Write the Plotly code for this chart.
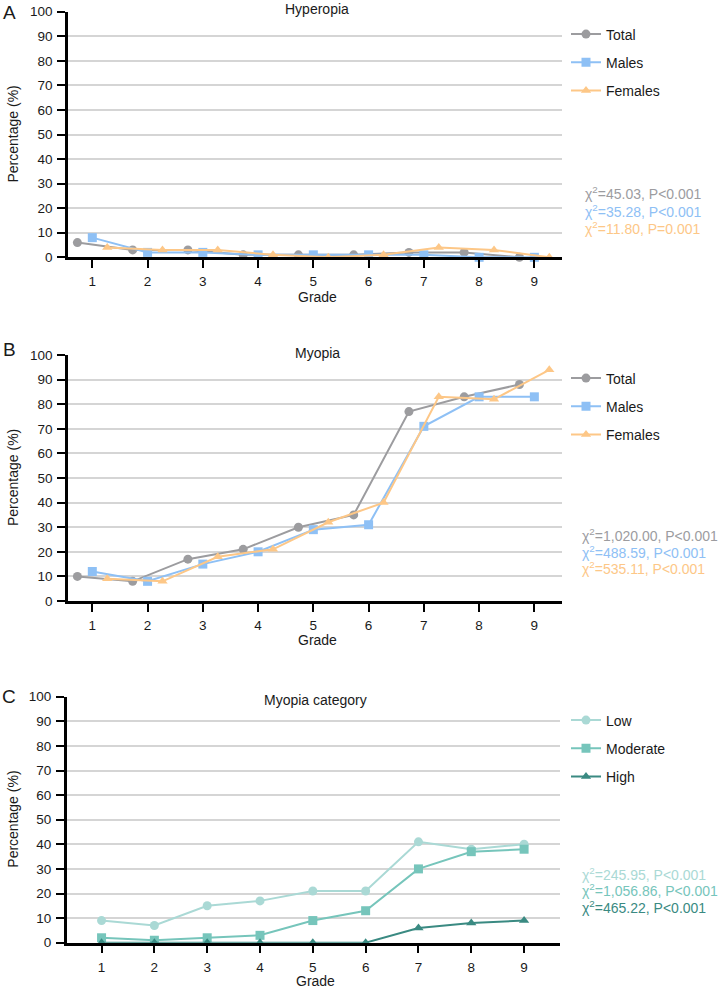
import plotly.graph_objects as go

# ---------------- data ----------------
grades = [1, 2, 3, 4, 5, 6, 7, 8, 9]
y_ticks = [0, 10, 20, 30, 40, 50, 60, 70, 80, 90, 100]
grid_vals = [10, 20, 30, 40, 50, 60, 70, 80, 90]

hyp_total = [6, 3, 3, 1, 1, 1, 2, 2, 0]
hyp_males = [8, 2, 2, 1, 1, 1, 1, 0, 0]
hyp_females = [4, 3, 3, 1, 0, 1, 4, 3, 0]

myo_total = [10, 8, 17, 21, 30, 35, 77, 83, 88]
myo_males = [12, 8, 15, 20, 29, 31, 71, 83, 83]
myo_females = [9, 8, 18, 21, 32, 40, 83, 82, 94]

cat_low = [9, 7, 15, 17, 21, 21, 41, 38, 40]
cat_moderate = [2, 1, 2, 3, 9, 13, 30, 37, 38]
cat_high = [0, 0, 0, 0, 0, 0, 6, 8, 9]

stats_A = ["=45.03, P&lt;0.001", "=35.28, P&lt;0.001", "=11.80, P=0.001"]
stats_B = ["=1,020.00, P&lt;0.001", "=488.59, P&lt;0.001", "=535.11, P&lt;0.001"]
stats_C = ["=245.95, P&lt;0.001", "=1,056.86, P&lt;0.001", "=465.22, P&lt;0.001"]

# ---------------- style ----------------
W, H = 720, 988
FONT = "Liberation Sans"
C_TOTAL = "#9c9c9f"
C_MALES = "#8ec0f5"
C_FEMALES = "#fdc787"
C_LOW = "#aad9d5"
C_MOD = "#76c5bb"
C_HIGH = "#3a8a82"
DODGE = 0.27


def px(x):
    return x / W


def py(y):
    return 1 - y / H


fig = go.Figure()


def add_series(xs, ys, name, color, symbol, xa, ya, legend, dodge=0.0):
    fig.add_trace(go.Scatter(
        x=[g + dodge for g in xs], y=ys, name=name, mode="lines+markers",
        line=dict(color=color, width=2),
        marker=dict(color=color, symbol=symbol, size=9, line=dict(width=0)),
        xaxis=xa, yaxis=ya, legend=legend, legendgroup=legend + name,
        cliponaxis=False, showlegend=True,
    ))


add_series(grades, hyp_total, "Total", C_TOTAL, "circle", "x", "y", "legend", -DODGE)
add_series(grades, hyp_males, "Males", C_MALES, "square", "x", "y", "legend", 0.0)
add_series(grades, hyp_females, "Females", C_FEMALES, "triangle-up", "x", "y", "legend", DODGE)

add_series(grades, myo_total, "Total", C_TOTAL, "circle", "x2", "y2", "legend2", -DODGE)
add_series(grades, myo_males, "Males", C_MALES, "square", "x2", "y2", "legend2", 0.0)
add_series(grades, myo_females, "Females", C_FEMALES, "triangle-up", "x2", "y2", "legend2", DODGE)

add_series(grades, cat_low, "Low", C_LOW, "circle", "x3", "y3", "legend3")
add_series(grades, cat_moderate, "Moderate", C_MOD, "square", "x3", "y3", "legend3")
add_series(grades, cat_high, "High", C_HIGH, "triangle-up", "x3", "y3", "legend3")

# panel geometry in pixels: (x_left, x_right, y_top(100), y_bottom(0), xrange)
panels = [
    (68, 562, 11.7, 257.3, [0.56, 9.5]),
    (68, 562, 355, 601, [0.56, 9.5]),
    (66.7, 560, 696.7, 942.7, [0.34, 9.68]),
]

layout = dict(
    width=W, height=H, autosize=False, margin=dict(l=0, r=0, t=0, b=0, pad=0, autoexpand=False),
    paper_bgcolor="white", plot_bgcolor="white",
    font=dict(family=FONT, size=14, color="#1a1a1a"),
    showlegend=True,
)

for i, (xl, xr, yt, yb, xr_range) in enumerate(panels):
    sfx = "" if i == 0 else str(i + 1)
    layout["xaxis" + sfx] = dict(
        domain=[px(xl), px(xr)], range=xr_range, anchor="y" + sfx,
        tickvals=grades, ticks="outside", ticklen=8, tickwidth=2, tickcolor="black",
        showline=True, linecolor="black", linewidth=2.5, showgrid=False, zeroline=False,
        tickfont=dict(family=FONT, size=13.5, color="#1a1a1a"), ticklabelstandoff=2,
        fixedrange=True, automargin=False,
    )
    layout["yaxis" + sfx] = dict(
        domain=[py(yb), py(yt)], range=[0, 100], anchor="x" + sfx,
        tickvals=y_ticks, ticks="outside", ticklen=8, tickwidth=2, tickcolor="black",
        showline=True, linecolor="black", linewidth=2.5, zeroline=False,
        showgrid=False,
        minor=dict(tickvals=grid_vals, showgrid=True, gridcolor="#d5d5d5", gridwidth=1.6, ticks=""),
        tickfont=dict(family=FONT, size=13.5, color="#1a1a1a"), ticklabelstandoff=2,
        fixedrange=True, automargin=False,
    )

legend_tops = [18.5, 362.5, 704.5]
for i, top in enumerate(legend_tops):
    key = "legend" if i == 0 else "legend" + str(i + 1)
    layout[key] = dict(
        x=px(566), y=py(top), xanchor="left", yanchor="top",
        bgcolor="rgba(0,0,0,0)", borderwidth=0,
        font=dict(family=FONT, size=14, color="#1a1a1a"),
        traceorder="grouped", tracegroupgap=7,
    )

fig.update_layout(**layout)

ann = []
titles = ["Hyperopia", "Myopia", "Myopia category"]
title_y = [9, 353, 700]
grade_y = [297, 640, 981]
letters = ["A", "B", "C"]
letter_y = [12.5, 349, 696]
for i, (xl, xr, yt, yb, _) in enumerate(panels):
    cx = (xl + xr) / 2
    ann.append(dict(text=titles[i], x=px(cx + 2), y=py(title_y[i]), xref="paper", yref="paper",
                    xanchor="center", yanchor="middle", showarrow=False,
                    font=dict(family=FONT, size=14, color="#1a1a1a")))
    ann.append(dict(text="Grade", x=px(cx + 2), y=py(grade_y[i]), xref="paper", yref="paper",
                    xanchor="center", yanchor="middle", showarrow=False,
                    font=dict(family=FONT, size=14, color="#1a1a1a")))
    ann.append(dict(text="Percentage (%)", x=px(13), y=py((yt + yb) / 2), xref="paper", yref="paper",
                    xanchor="center", yanchor="middle", showarrow=False, textangle=-90,
                    font=dict(family=FONT, size=14, color="#1a1a1a")))
    ann.append(dict(text=letters[i], x=px(9), y=py(letter_y[i]), xref="paper", yref="paper",
                    xanchor="center", yanchor="middle", showarrow=False,
                    font=dict(family=FONT, size=19, color="#1a1a1a")))

stat_sets = [
    (stats_A, [C_TOTAL, C_MALES, C_FEMALES], 583, [193, 210.5, 228]),
    (stats_B, [C_TOTAL, C_MALES, C_FEMALES], 579.5, [535, 551.5, 568]),
    (stats_C, [C_LOW, C_MOD, C_HIGH], 579.5, [873.5, 890.3, 907]),
]
for texts, cols, sx, ys in stat_sets:
    for t, c, yy in zip(texts, cols, ys):
        ann.append(dict(text="χ<sup>2</sup>" + t, x=px(sx), y=py(yy), xref="paper", yref="paper",
                        xanchor="left", yanchor="middle", showarrow=False,
                        font=dict(family=FONT, size=14, color=c)))

fig.update_layout(annotations=ann)
fig.write_html(
    "out.html",
    config={"displayModeBar": False, "responsive": False},
    post_script="document.body.style.margin='0px';document.body.style.padding='0px';",
)
